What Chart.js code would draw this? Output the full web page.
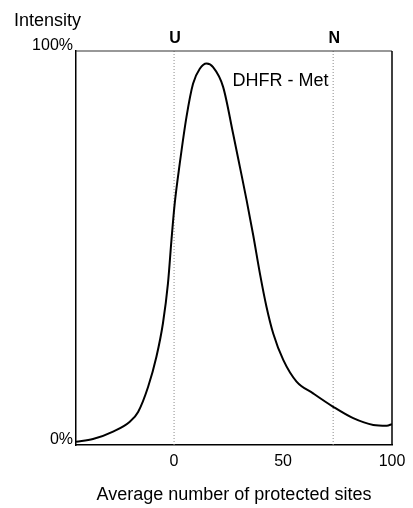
<!DOCTYPE html>
<html>
<head>
<meta charset="utf-8">
<script src="https://cdn.jsdelivr.net/npm/chart.js@4/dist/chart.umd.min.js"></script>
<style>
  html, body { margin: 0; padding: 0; background: #fff; }
  canvas { display: block; }
</style>
</head>
<body>
<canvas id="c" width="413" height="508"></canvas>
<script>
// ---- data ----
const sitesX = [-45, -37.2, -28.0, -20.3, -16.5, -11.9, -8.1, -5.1, -2.8, -1.2, 0.3, 2.6, 5.7, 8.7, 11.8, 14.9, 17.9, 22.5, 27.1, 30.2, 33.3, 36.3, 39.4, 42.4, 45.5, 50.1, 56.2, 63.8, 73.0, 82.2, 91.4, 97.6, 100];
const intensityY = [0.8, 1.5, 3.4, 5.9, 8.4, 14.8, 22.4, 30.9, 41.0, 52.0, 61.3, 71.4, 83.3, 91.7, 95.5, 96.8, 95.9, 90.9, 79.0, 70.6, 62.1, 53.3, 43.5, 35.1, 28.3, 21.6, 16.1, 13.1, 9.7, 6.8, 5.1, 4.9, 5.3];
const markerNames = ['U', 'N'];
const markerX = [0, 73];
const xTickValues = [0, 50, 100];
const yTickValues = [0, 100];
const seriesLabel = 'DHFR - Met';
const seriesLabelPos = [26.8, 91];
const yTitle = 'Intensity';
const xTitle = 'Average number of protected sites';
const xMin = -45, xMax = 100;

const FONT = '"Liberation Sans", Arial, Helvetica, sans-serif';

const curve = sitesX.map((x, i) => ({ x: x, y: intensityY[i] }));
const markerSets = markerX.map(mx => ({
  data: [{ x: mx, y: 0 }, { x: mx, y: 100 }],
  borderColor: '#8a8a8a',
  borderWidth: 1,
  borderDash: [1, 2],
  pointRadius: 0,
  showLine: true,
  tension: 0
}));

const annotate = {
  id: 'annotate',
  afterDraw(chart) {
    const { ctx, chartArea: a, scales: { x, y } } = chart;
    ctx.save();
    // top and right frame
    ctx.strokeStyle = '#333';
    ctx.lineWidth = 1.2;
    ctx.beginPath();
    ctx.moveTo(a.left, a.top);
    ctx.lineTo(a.right, a.top);
    ctx.stroke();
    ctx.strokeStyle = '#000';
    ctx.lineWidth = 1.5;
    ctx.beginPath();
    ctx.moveTo(a.right, a.top);
    ctx.lineTo(a.right, a.bottom);
    ctx.stroke();

    ctx.fillStyle = '#000';
    ctx.textBaseline = 'alphabetic';
    // marker names
    ctx.font = 'bold 16px ' + FONT;
    ctx.textAlign = 'center';
    markerNames.forEach((n, i) => {
      ctx.fillText(n, x.getPixelForValue(markerX[i]) + 1, a.top - 8);
    });
    // series label
    ctx.font = '18px ' + FONT;
    ctx.textAlign = 'left';
    ctx.fillText(seriesLabel, x.getPixelForValue(seriesLabelPos[0]), y.getPixelForValue(seriesLabelPos[1]));
    // y title
    ctx.fillText(yTitle, a.left - 62, a.top - 25);
    ctx.restore();
  }
};

new Chart(document.getElementById('c'), {
  type: 'scatter',
  data: {
    datasets: [
      {
        data: curve,
        borderColor: '#000',
        borderWidth: 2,
        pointRadius: 0,
        showLine: true,
        fill: false,
        cubicInterpolationMode: 'monotone'
      },
      ...markerSets
    ]
  },
  options: {
    responsive: false,
    animation: false,
    layout: { padding: { top: 51, right: 21, left: 0, bottom: 0 } },
    plugins: {
      legend: { display: false },
      tooltip: { enabled: false },
      title: { display: false }
    },
    scales: {
      x: {
        type: 'linear',
        min: xMin,
        max: xMax,
        afterBuildTicks: s => { s.ticks = xTickValues.map(v => ({ value: v })); },
        afterFit: s => { s.height = 63; },
        grid: { display: false, drawTicks: false },
        border: { display: true, color: '#000', width: 1.5 },
        ticks: {
          color: '#000',
          font: { family: FONT, size: 16 },
          padding: 7,
          maxRotation: 0,
          autoSkip: false,
          callback: v => String(v)
        },
        title: {
          display: true,
          text: xTitle,
          color: '#000',
          font: { family: FONT, size: 18 },
          padding: { top: 0, bottom: 2 }
        }
      },
      y: {
        type: 'linear',
        min: 0,
        max: 100,
        afterBuildTicks: s => { s.ticks = yTickValues.map(v => ({ value: v })); },
        afterFit: s => { s.width = 76; },
        grid: { display: false, drawTicks: false },
        border: { display: true, color: '#000', width: 1.5 },
        ticks: {
          color: '#000',
          font: { family: FONT, size: 16 },
          padding: 3,
          labelOffset: -5,
          autoSkip: false,
          callback: v => v + '%'
        }
      }
    }
  },
  plugins: [annotate]
});
</script>
</body>
</html>
